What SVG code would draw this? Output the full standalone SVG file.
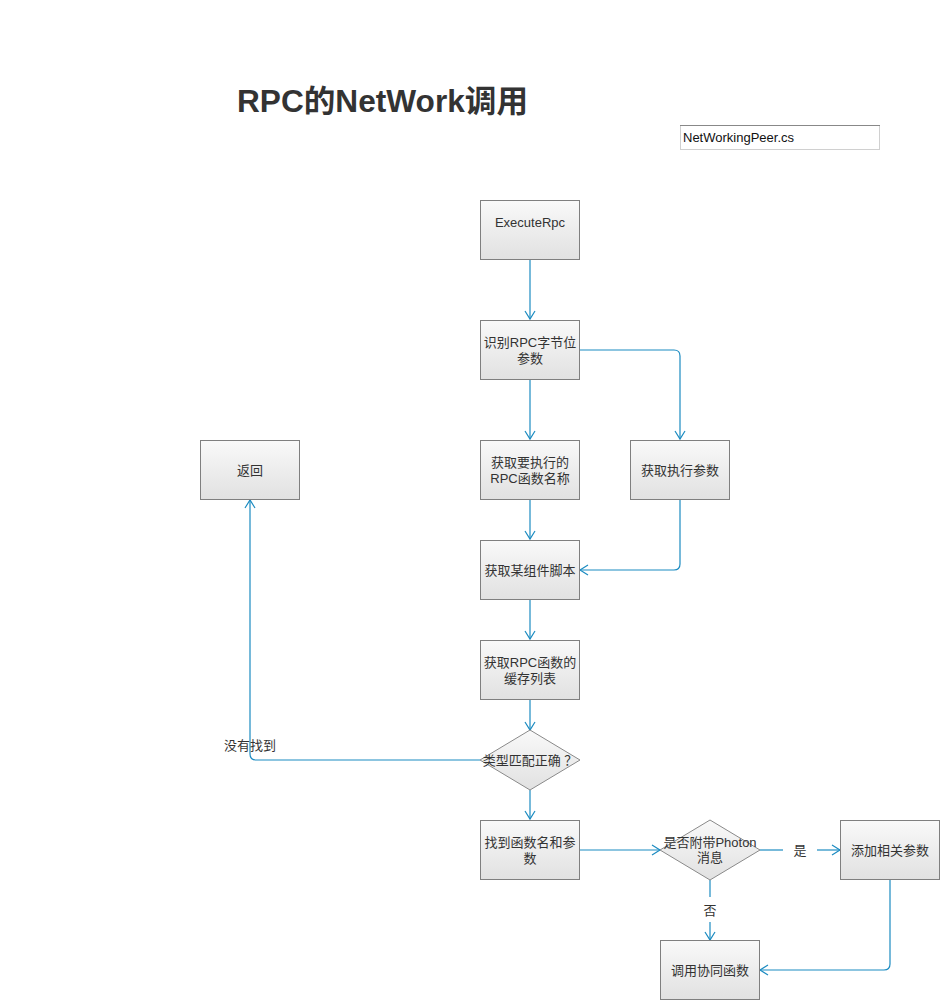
<svg xmlns="http://www.w3.org/2000/svg" width="940" height="1000" viewBox="0 0 940 1000">
<style>
.n{fill:url(#g);stroke:#7f7f7f;stroke-width:1}
.d{fill:url(#g);stroke:#8a8a8a;stroke-width:1}
.t{font-family:"Liberation Sans","Noto Sans CJK SC",sans-serif;font-size:13px;fill:#333;text-anchor:middle}
.c{fill:none;stroke:#1b8bc1;stroke-width:1.2;marker-end:url(#a)}
.cn{fill:none;stroke:#1b8bc1;stroke-width:1.2}
.l{font-family:"Liberation Sans","Noto Sans CJK SC",sans-serif;font-size:13px;fill:#333;text-anchor:middle}
</style>
<defs>
<linearGradient id="g" x1="0" y1="0" x2="0" y2="1">
<stop offset="0" stop-color="#f9f9f9"/>
<stop offset="1" stop-color="#e1e1e1"/>
</linearGradient>
<marker id="a" markerWidth="12" markerHeight="12" refX="10" refY="6" orient="auto" markerUnits="userSpaceOnUse">
<path d="M2,1 L10,6 L2,11" fill="none" stroke="#1b8bc1" stroke-width="1.2"/>
</marker>
</defs>
<rect width="940" height="1000" fill="#fff"/>
<text x="237" y="112" font-family="'Liberation Sans','Noto Sans CJK SC',sans-serif" font-size="31" font-weight="bold" fill="#333" textLength="291" lengthAdjust="spacingAndGlyphs">RPC的NetWork调用</text>
<g id="file">
<rect x="680.5" y="125.5" width="199" height="24" fill="#fff" stroke="#d0d0d0"/>
<line x1="680" y1="125.5" x2="880" y2="125.5" stroke="#888"/>
<text x="683" y="142" font-family="'Liberation Sans',sans-serif" font-size="13" fill="#111">NetWorkingPeer.cs</text>
</g>
<g id="connectors">
<path class="c" d="M530,259 V319"/>
<path class="c" d="M579,350 H674 Q680,350 680,356 V439"/>
<path class="c" d="M530,379 V439"/>
<path class="c" d="M530,499 V539"/>
<path class="c" d="M680,499 V564 Q680,570 674,570 H580"/>
<path class="c" d="M530,599 V639"/>
<path class="c" d="M530,699 V730"/>
<path class="c" d="M480,760 H256 Q250,760 250,754 V500"/>
<path class="c" d="M530,790 V819"/>
<path class="c" d="M579,850 H660"/>
<path class="cn" d="M760,850 H783"/>
<path class="c" d="M817,850 H840"/>
<path class="cn" d="M710,880 V897"/>
<path class="c" d="M710,922 V940"/>
<path class="c" d="M890,879 V964 Q890,970 884,970 H760"/>
<text class="l" x="250" y="750">没有找到</text>
<text class="l" x="800" y="855">是</text>
<text class="l" x="710" y="915">否</text>
</g>
<g id="n1"><rect class="n" x="480.5" y="200.5" width="99" height="59"/><text class="t" x="530" y="227">ExecuteRpc</text></g>
<g id="n2"><rect class="n" x="480.5" y="320.5" width="99" height="59"/><text class="t" x="530" y="347">识别RPC字节位</text><text class="t" x="530" y="363">参数</text></g>
<g id="n3"><rect class="n" x="480.5" y="440.5" width="99" height="59"/><text class="t" x="530" y="467">获取要执行的</text><text class="t" x="530" y="483">RPC函数名称</text></g>
<g id="n4"><rect class="n" x="630.5" y="440.5" width="99" height="59"/><text class="t" x="680" y="475">获取执行参数</text></g>
<g id="n5"><rect class="n" x="200.5" y="440.5" width="99" height="59"/><text class="t" x="250" y="475">返回</text></g>
<g id="n6"><rect class="n" x="480.5" y="540.5" width="99" height="59"/><text class="t" x="530" y="575">获取某组件脚本</text></g>
<g id="n7"><rect class="n" x="480.5" y="640.5" width="99" height="59"/><text class="t" x="530" y="667">获取RPC函数的</text><text class="t" x="530" y="683">缓存列表</text></g>
<g id="n8"><path class="d" d="M530,730 L580,760 L530,790 L480,760 Z"/><text class="t" x="530" y="765">类型匹配正确 ？</text></g>
<g id="n9"><rect class="n" x="480.5" y="820.5" width="99" height="59"/><text class="t" x="530" y="847">找到函数名和参</text><text class="t" x="530" y="863">数</text></g>
<g id="n10"><path class="d" d="M710,820 L760,850 L710,880 L660,850 Z"/><text class="t" x="710" y="847">是否附带Photon</text><text class="t" x="710" y="862">消息</text></g>
<g id="n11"><rect class="n" x="840.5" y="820.5" width="99" height="59"/><text class="t" x="890" y="855">添加相关参数</text></g>
<g id="n12"><rect class="n" x="660.5" y="940.5" width="99" height="59"/><text class="t" x="710" y="975">调用协同函数</text></g>
</svg>
